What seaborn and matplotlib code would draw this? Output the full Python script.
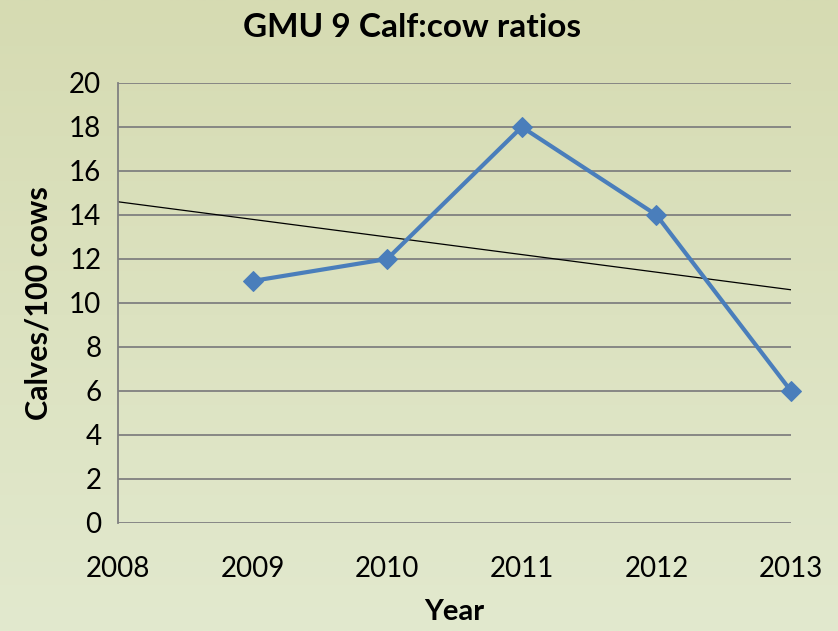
import numpy as np
import pandas as pd
import matplotlib
matplotlib.use("Agg")
import matplotlib.pyplot as plt
import seaborn as sns

years = [2009, 2010, 2011, 2012, 2013]
ratios = [11, 12, 18, 14, 6]
y_ticks = [0, 2, 4, 6, 8, 10, 12, 14, 16, 18, 20]
x_ticks = [2008, 2009, 2010, 2011, 2012, 2013]

df = pd.DataFrame({"Year": years, "Calves/100 cows": ratios})

sns.set_style("white")
plt.rcParams["font.family"] = ["Lato", "DejaVu Sans"]
plt.rcParams["text.color"] = "black"
plt.rcParams["axes.labelcolor"] = "black"

fig = plt.figure(figsize=(8.38, 6.31), dpi=100)

# background gradient
bg = fig.add_axes([0, 0, 1, 1], zorder=-10)
grad = np.linspace(0, 1, 256).reshape(-1, 1)
top_c = np.array([214, 219, 178]) / 255
bot_c = np.array([226, 233, 206]) / 255
img = top_c + (bot_c - top_c) * grad[:, :, None]
bg.imshow(img, aspect="auto", extent=[0, 1, 0, 1])
bg.axis("off")

ax = fig.add_axes([0.1408, 0.1712, 0.8031, 0.6973])
ax.patch.set_alpha(0)

sns.lineplot(data=df, x="Year", y="Calves/100 cows", ax=ax, color="#4a7ebb",
             linewidth=3, marker="D", markersize=10, markeredgecolor="#4a7ebb",
             zorder=3, clip_on=False)

# linear trendline
coef = np.polyfit(years, ratios, 1)
tx = np.array([x_ticks[0], x_ticks[-1]])
ax.plot(tx, np.polyval(coef, tx), color="black", linewidth=0.9, zorder=2)

ax.set_xlim(2008, 2013)
ax.set_ylim(0, 20)
ax.set_xticks(x_ticks)
ax.set_yticks(y_ticks)
ax.set_xticklabels([str(x) for x in x_ticks])
ax.yaxis.grid(True, color="#808080", linewidth=1.3)
ax.set_axisbelow(True)
for s in ["top", "right", "bottom"]:
    ax.spines[s].set_visible(False)
ax.spines["left"].set_color("#808080")
ax.spines["left"].set_linewidth(1.3)
ax.tick_params(axis="both", labelsize=20, length=0, colors="black")
ax.tick_params(axis="x", pad=24)
ax.tick_params(axis="y", pad=12)

ax.set_xlabel("Year", fontsize=21, fontweight="bold", labelpad=12)
ax.set_ylabel("Calves/100 cows", fontsize=22, fontweight="bold", labelpad=12)
fig.text(0.492, 0.956, "GMU 9 Calf:cow ratios", fontsize=24, fontweight="bold",
         ha="center", va="center")

fig.savefig("out.png", dpi=100)
